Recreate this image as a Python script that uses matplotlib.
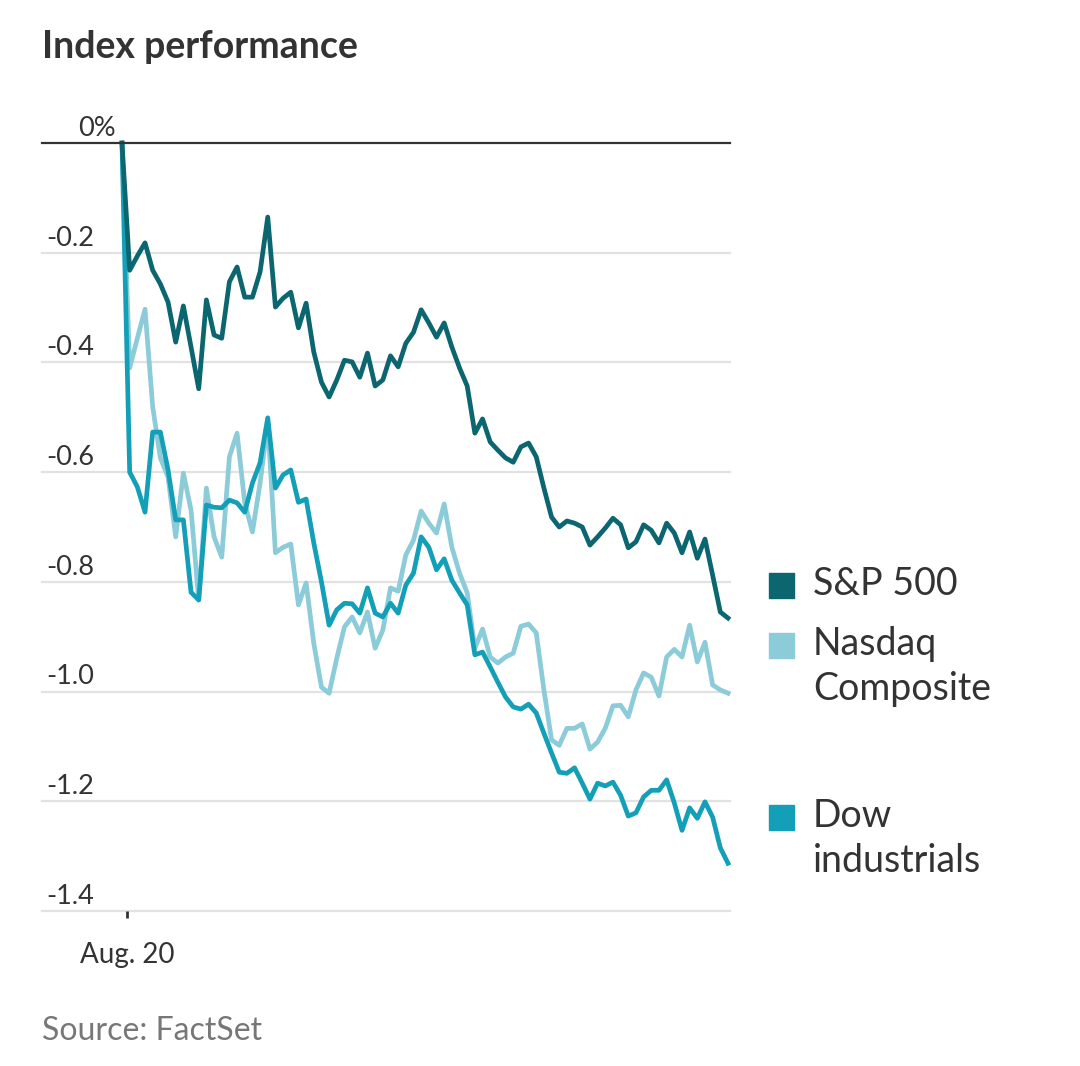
import numpy as np
import matplotlib
matplotlib.use("Agg")
import matplotlib.pyplot as plt
from matplotlib.patches import Rectangle

plt.rcParams['font.family'] = ['Lato', 'DejaVu Sans']

# percent change from the Aug. 19 close, one point per interval
sp500 = [0, -0.232, -0.206, -0.182, -0.232, -0.257, -0.290, -0.363, -0.297, -0.372,
         -0.448, -0.286, -0.350, -0.356, -0.253, -0.226, -0.281, -0.281, -0.235, -0.135,
         -0.299, -0.283, -0.272, -0.337, -0.292, -0.381, -0.436, -0.463, -0.432, -0.396,
         -0.399, -0.427, -0.383, -0.443, -0.432, -0.388, -0.408, -0.365, -0.345, -0.304,
         -0.328, -0.354, -0.328, -0.372, -0.410, -0.443, -0.529, -0.503, -0.545, -0.560,
         -0.574, -0.582, -0.554, -0.547, -0.572, -0.629, -0.682, -0.700, -0.689, -0.693,
         -0.700, -0.733, -0.718, -0.702, -0.684, -0.696, -0.738, -0.727, -0.696, -0.706,
         -0.729, -0.693, -0.711, -0.747, -0.709, -0.757, -0.722, -0.788, -0.855, -0.866]
nasdaq = [0, -0.410, -0.356, -0.303, -0.481, -0.574, -0.609, -0.718, -0.602, -0.669,
          -0.833, -0.629, -0.718, -0.755, -0.572, -0.529, -0.656, -0.709, -0.620, -0.509,
          -0.747, -0.737, -0.731, -0.842, -0.802, -0.912, -0.992, -1.003, -0.939, -0.882,
          -0.864, -0.893, -0.855, -0.921, -0.888, -0.811, -0.817, -0.751, -0.724, -0.671,
          -0.693, -0.711, -0.658, -0.737, -0.784, -0.820, -0.921, -0.886, -0.937, -0.948,
          -0.937, -0.930, -0.881, -0.877, -0.893, -0.997, -1.088, -1.098, -1.067, -1.067,
          -1.059, -1.105, -1.092, -1.067, -1.026, -1.025, -1.046, -0.997, -0.966, -0.974,
          -1.008, -0.937, -0.923, -0.937, -0.879, -0.946, -0.910, -0.988, -0.997, -1.003]
dow = [0, -0.600, -0.627, -0.673, -0.527, -0.527, -0.596, -0.687, -0.687, -0.819,
       -0.833, -0.660, -0.664, -0.665, -0.651, -0.656, -0.673, -0.620, -0.583, -0.501,
       -0.629, -0.605, -0.596, -0.655, -0.649, -0.729, -0.800, -0.879, -0.851, -0.839,
       -0.840, -0.857, -0.811, -0.857, -0.864, -0.839, -0.857, -0.806, -0.784, -0.718,
       -0.737, -0.778, -0.758, -0.797, -0.820, -0.842, -0.933, -0.928, -0.955, -0.983,
       -1.010, -1.028, -1.032, -1.023, -1.039, -1.076, -1.112, -1.147, -1.149, -1.139,
       -1.167, -1.196, -1.167, -1.172, -1.165, -1.189, -1.227, -1.221, -1.192, -1.180,
       -1.180, -1.161, -1.203, -1.253, -1.212, -1.231, -1.201, -1.229, -1.285, -1.313]

yticks = [0, -0.2, -0.4, -0.6, -0.8, -1.0, -1.2, -1.4]
ytick_labels = ['0%', '-0.2', '-0.4', '-0.6', '-0.8', '-1.0', '-1.2', '-1.4']
series_names = ['S&P 500', 'Nasdaq\nComposite', 'Dow\nindustrials']
colors = ['#0c6670', '#8ccbd8', '#139fb8']

W, H = 1080, 1066
fig = plt.figure(figsize=(W / 100, H / 100), dpi=100)

def fx(px):
    return px / W

def fy(py):
    return 1 - py / H

ax = fig.add_axes([fx(42), fy(911), fx(730) - fx(42), fy(143) - fy(911)])
x = np.arange(len(sp500))
step = 7.67  # pixels per interval
ax.set_xlim(-80 / step, len(sp500) - 1 + 2 / step)
ax.set_ylim(-1.4, 0)

for v in yticks[1:]:
    ax.axhline(v, color='#e2e2e2', lw=1.6, zorder=1, clip_on=False)
ax.axhline(0, color='#333333', lw=1.6, zorder=5, clip_on=False)

# S&P drawn last so it sits on top
ax.plot(x, nasdaq, color=colors[1], lw=3.4, zorder=2, clip_on=False)
ax.plot(x, dow, color=colors[2], lw=3.4, zorder=3, clip_on=False)
ax.plot(x, sp500, color=colors[0], lw=3.4, zorder=4, clip_on=False)

for s in ax.spines.values():
    s.set_visible(False)
ax.set_yticks([])
ax.set_xticks([0.65])
ax.set_xticklabels([''])
ax.tick_params(axis='x', length=5, width=2, color='#333333', direction='out')

# y labels sit just above their gridlines
for v, lab in zip(yticks, ytick_labels):
    py = 143 + (-v) * 548.5 - 7
    if lab.endswith('%'):
        fig.text(fx(78), fy(py), lab, ha='left', va='baseline', fontsize=19.5, color='#333333')
    else:
        fig.text(fx(94), fy(py), lab, ha='right', va='baseline', fontsize=19.5, color='#333333')

fig.text(fx(127), fy(963), 'Aug. 20', ha='center', va='baseline', fontsize=20, color='#333333')

fig.text(fx(42), fy(58), 'Index performance', ha='left', va='baseline',
         fontsize=27, fontweight='bold', color='#333333')
fig.text(fx(42), fy(1040), 'Source: FactSet', ha='left', va='baseline',
         fontsize=23, color='#777777')

# legend
leg_y = [585, 645, 817]
for name, c, cy in zip(series_names, colors, leg_y):
    fig.patches.append(Rectangle((fx(769), fy(cy + 12.5)), fx(25), fy(0) - fy(25),
                                 transform=fig.transFigure, color=c, figure=fig))
    fig.text(fx(813), fy(cy - 19), name, ha='left', va='top', fontsize=27,
             color='#333333', linespacing=1.3)

fig.savefig('out.png', dpi=100)
